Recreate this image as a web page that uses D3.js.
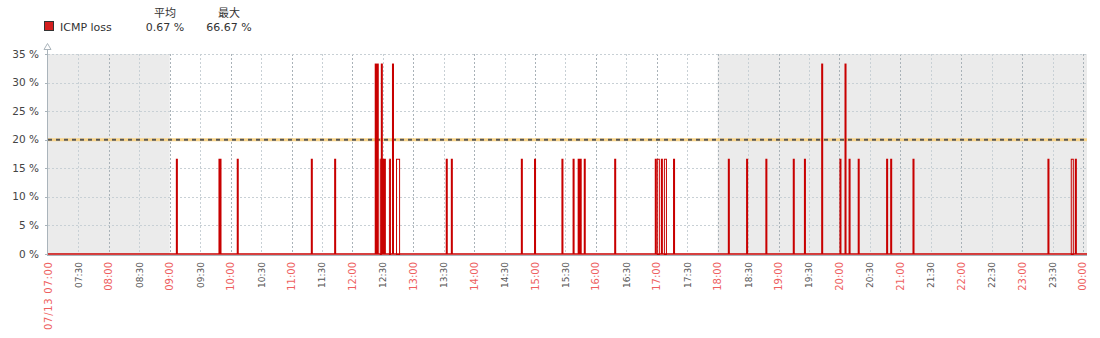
<!DOCTYPE html>
<html><head><meta charset="utf-8">
<script src="https://cdn.jsdelivr.net/npm/d3@7"></script>
<style>body{margin:0;background:#fff}svg{display:block;font-family:"DejaVu Sans",sans-serif}</style>
</head><body>
<svg id="c" width="1100" height="338"></svg>
<script>
// ---- data ----
const seriesName = "ICMP loss";
const legendHeaders = ["平均", "最大"];
const legendValues = ["0.67 %", "66.67 %"];
const yTicks = [0, 5, 10, 15, 20, 25, 30, 35];
const threshold = 20;
const dayLabel = "07/13";
const startTime = "07:00";
const endMinutes = 1024; // minutes after start covered by the plot
const shadedRanges = [["07:00", "09:00"], ["18:00", "24:04"]];
// bars: start time, duration (minutes), loss %, filled (1) or outline only (0)
const barTimes = ["09:06","09:48","10:06","11:19","11:42","12:22","12:27","12:28","12:29","12:36","12:39","12:43","13:32","13:37","14:46","14:59","15:26","15:37","15:42","15:48","16:18","16:58","17:00","17:04","17:07","17:16","18:10","18:28","18:47","19:14","19:25","19:42","20:00","20:05","20:09","20:18","20:46","20:50","21:12","23:25","23:48","23:52"];
const barDurations = [2,3,2,2,2,4,2,2,4,2,2,4,2,2,2,2,2,2,4,2,2,2,3,2,3,2,2,2,2,2,2,2,2,2,2,2,2,2,2,2,3,2];
const barValues = [16.67,16.67,16.67,16.67,16.67,33.33,16.67,33.33,16.67,16.67,33.33,16.67,16.67,16.67,16.67,16.67,16.67,16.67,16.67,16.67,16.67,16.67,16.67,16.67,16.67,16.67,16.67,16.67,16.67,16.67,16.67,33.33,16.67,33.33,16.67,16.67,16.67,16.67,16.67,16.67,16.67,16.67];
const barFilled = [1,1,1,1,1,1,0,1,1,0,1,0,1,1,1,1,1,1,1,1,1,1,0,1,0,1,1,1,1,1,1,1,1,1,1,1,1,1,1,1,0,1];

// ---- layout ----
const L = 48, R = 1087, T = 54, B = 254;
const toMin = s => { const [h, m] = s.split(":").map(Number); return h * 60 + m; };
const t0 = toMin(startTime);
const x = d3.scaleLinear().domain([0, endMinutes]).range([L, R]);
const y = d3.scaleLinear().domain([0, 35]).range([B, T]);
const red = "#c80000";
const svg = d3.select("#c");

// shaded background
svg.selectAll("rect.shade").data(shadedRanges).join("rect")
  .attr("x", d => x(toMin(d[0]) - t0)).attr("y", T)
  .attr("width", d => x(Math.min(endMinutes, toMin(d[1]) - t0)) - x(toMin(d[0]) - t0))
  .attr("height", B - T).attr("fill", "#ebebeb");

// grid
const vTicks = d3.range(0, endMinutes + 1, 30);
svg.append("g").selectAll("line").data(vTicks.filter(d => d > 0)).join("line")
  .attr("x1", d => Math.round(x(d)) + 0.5).attr("x2", d => Math.round(x(d)) + 0.5)
  .attr("y1", T).attr("y2", B)
  .attr("stroke", d => d % 60 === 0 ? "#a9b2b8" : "#c8d0d5")
  .attr("stroke-dasharray", "2,2");
svg.append("g").selectAll("line").data(yTicks.filter(d => d > 0)).join("line")
  .attr("x1", L).attr("x2", R)
  .attr("y1", d => Math.round(y(d)) + 0.5).attr("y2", d => Math.round(y(d)) + 0.5)
  .attr("stroke", "#c8d0d5").attr("stroke-dasharray", "2,2");

// threshold
svg.append("line").attr("x1", L).attr("x2", R).attr("y1", y(threshold)).attr("y2", y(threshold))
  .attr("stroke", "#f8d48a").attr("stroke-width", 3);
svg.append("line").attr("x1", L).attr("x2", R).attr("y1", y(threshold)).attr("y2", y(threshold))
  .attr("stroke", "#555").attr("stroke-width", 2).attr("stroke-dasharray", "4,4");

// bars
const bars = barTimes.map((t, i) => ({ s: toMin(t) - t0, d: barDurations[i], v: barValues[i], f: barFilled[i] }));
const order = bars.filter(b => !b.f).concat(bars.filter(b => b.f));
svg.append("g").selectAll("rect").data(order).join("rect")
  .attr("x", b => b.f ? x(b.s) : x(b.s) + 0.5)
  .attr("y", b => b.f ? y(b.v) : y(b.v) + 0.5)
  .attr("width", b => b.f ? Math.max(2, x(b.s + b.d) - x(b.s)) : Math.max(1, x(b.s + b.d) - x(b.s) - 1))
  .attr("height", b => B - y(b.v))
  .attr("fill", b => b.f ? red : "none")
  .attr("stroke", b => b.f ? "none" : red).attr("stroke-width", 1);

// baseline & axes
svg.append("line").attr("x1", L).attr("x2", R).attr("y1", B + 1.5).attr("y2", B + 1.5).attr("stroke", "#aab4bb");
svg.append("line").attr("x1", L).attr("x2", R).attr("y1", B).attr("y2", B).attr("stroke", red).attr("stroke-width", 1.5);
svg.append("line").attr("x1", L - 0.5).attr("x2", L - 0.5).attr("y1", 48).attr("y2", B + 2).attr("stroke", "#aab4bb");
svg.append("path").attr("d", `M${L - 4},${49.5}L${L - 0.5},${43.5}L${L + 3},${49.5}Z`).attr("fill", "#fff").attr("stroke", "#aab4bb");
// y tick marks
svg.append("g").selectAll("line").data(yTicks).join("line")
  .attr("x1", L - 3).attr("x2", L).attr("y1", d => Math.round(y(d)) + 0.5).attr("y2", d => Math.round(y(d)) + 0.5)
  .attr("stroke", "#aab4bb");

// y labels
svg.append("g").selectAll("text").data(yTicks).join("text")
  .attr("x", 39).attr("y", d => y(d) + 3.5).attr("text-anchor", "end")
  .attr("font-size", 10.5).attr("fill", "#444").text(d => d + " %");

// x labels
const fmt = m => { const tm = (t0 + m) % 1440; return String(Math.floor(tm / 60)).padStart(2, "0") + ":" + String(tm % 60).padStart(2, "0"); };
const xl = vTicks.filter(d => d <= 1020);
const xt = svg.append("g").selectAll("text").data(xl).join("text")
  .attr("transform", d => `translate(${x(d) + 3.5},${262}) rotate(-90)`)
  .attr("text-anchor", "end").attr("font-size", d => d % 60 === 0 ? 10 : 9)
  .attr("fill", d => d % 60 === 0 ? "#ee5f5f" : "#555")
  .text(d => d === 0 ? dayLabel + " " + fmt(d) : fmt(d));
xt.filter(d => d === 0).attr("textLength", 68).attr("lengthAdjust", "spacing");

// legend
svg.append("rect").attr("x", 44.5).attr("y", 21.5).attr("width", 9).attr("height", 9)
  .attr("fill", "#d41f1f").attr("stroke", "#333");
svg.append("text").attr("x", 60).attr("y", 30.5).attr("font-size", 11).attr("fill", "#333").text(seriesName);
const colX = [165, 229];
svg.append("g").selectAll("text").data(legendHeaders).join("text")
  .attr("x", (d, i) => colX[i]).attr("y", 16.5).attr("text-anchor", "middle")
  .attr("font-size", 11).attr("fill", "#333").attr("font-family", "Noto Sans CJK SC").text(d => d);
svg.append("g").selectAll("text").data(legendValues).join("text")
  .attr("x", (d, i) => colX[i]).attr("y", 30.5).attr("text-anchor", "middle")
  .attr("font-size", 11).attr("fill", "#333").text(d => d);
</script>
</body></html>
